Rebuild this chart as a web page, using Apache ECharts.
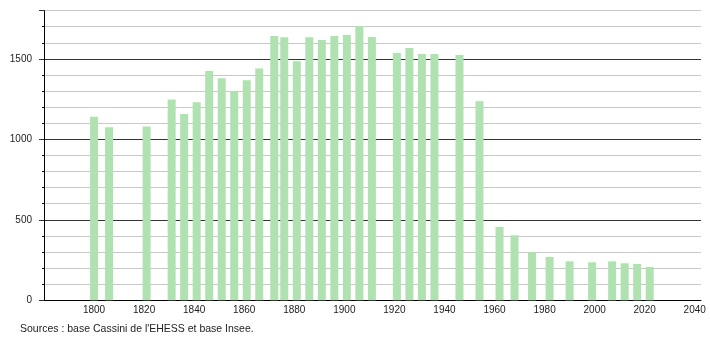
<!DOCTYPE html>
<html><head><meta charset="utf-8">
<script src="https://cdn.jsdelivr.net/npm/echarts@6/dist/echarts.min.js"></script>
<style>html,body{margin:0;padding:0;background:#fff}#c{width:710px;height:340px}</style>
</head><body><div id="c"></div>
<script>
var years = [1800,1806,1821,1831,1836,1841,1846,1851,1856,1861,1866,1872,1876,1881,1886,1891,1896,1901,1906,1911,1921,1926,1931,1936,1946,1954,1962,1968,1975,1982,1990,1999,2007,2012,2017,2022];
var population = [1140,1075,1080,1248,1157,1231,1424,1380,1298,1368,1441,1642,1634,1486,1634,1617,1642,1648,1704,1636,1536,1567,1530,1530,1524,1237,456,404,298,269,242,236,242,230,226,207];
var xTickLabels = [1800,1820,1840,1860,1880,1900,1920,1940,1960,1980,2000,2020,2040];
var yTickLabels = [0,500,1000,1500];
var sourceText = "Sources : base Cassini de l'EHESS et base Insee.";

var data = years.map(function(y,i){return [y, population[i]];});
var font = 'Liberation Sans, Arial, sans-serif';
var chart = echarts.init(document.getElementById('c'), null, {renderer:'canvas'});
chart.setOption({
  animation:false,
  backgroundColor:'#fff',
  grid:{left:44,right:9,top:10.6,bottom:39.7},
  xAxis:{
    type:'value', min:1780, max:2042.5, interval:20,
    axisLine:{show:true,lineStyle:{color:'#000',width:1}},
    axisTick:{show:false},
    splitLine:{show:false},
    axisLabel:{customValues:xTickLabels, color:'#222', fontSize:10, fontFamily:font, margin:5,
      formatter:function(v){return String(v);}}
  },
  yAxis:[{
    type:'value', min:0, max:1800, interval:100,
    axisLine:{show:true,lineStyle:{color:'#000',width:1}},
    axisTick:{show:true,length:2,lineStyle:{color:'#000'}},
    axisLabel:{customValues:yTickLabels, color:'#222', fontSize:10, fontFamily:font, margin:12,
      formatter:function(v){return String(v);}},
    splitLine:{show:true,lineStyle:{color:['#333','#c8c8c8','#c8c8c8','#c8c8c8','#c8c8c8'],width:1}}
  },{
    type:'value', min:0, max:1800, interval:500, position:'left',
    axisLine:{show:false},
    axisTick:{show:true,length:5,lineStyle:{color:'#333'}},
    axisLabel:{show:false},
    splitLine:{show:false}
  }],
  series:[{
    type:'bar', data:data, barWidth:8, yAxisIndex:0,
    itemStyle:{color:'#b0e1b0'}
  }],
  graphic:[{
    type:'text', left:20, top:323.5,
    style:{text:sourceText, fill:'#222', fontSize:10.5, fontFamily:font}
  }]
});
</script></body></html>
